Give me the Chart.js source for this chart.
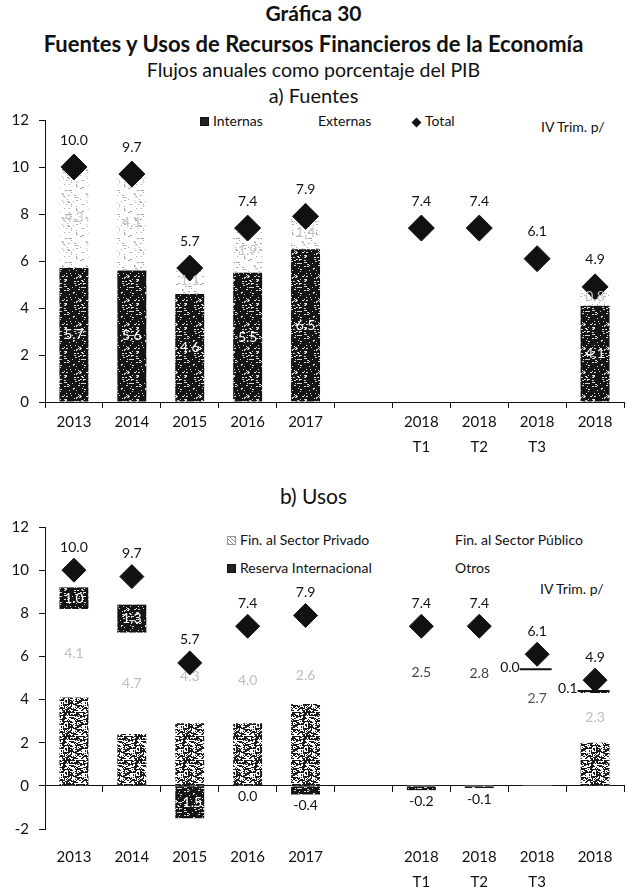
<!DOCTYPE html>
<html>
<head>
<meta charset="utf-8">
<script src="https://cdn.jsdelivr.net/npm/chart.js@4.4.0/dist/chart.umd.min.js"></script>
<style>
  body { margin: 0; background: #fff; font-family: Lato, 'Open Sans', sans-serif; color: #111; }
  #page { position: relative; width: 627px; height: 887px; overflow: hidden; background: #fff; }
  .t { position: absolute; left: 0; width: 627px; text-align: center; white-space: nowrap; line-height: 1; }
  .lg { position: absolute; font-size: 14px; white-space: nowrap; line-height: 1; }
  .ic { display: inline-block; width: 8px; height: 8px; margin-right: 4px; }
  .dk { background: #222; border: 1px solid #111; width: 7px; height: 7px; }
  .lt { background: repeating-linear-gradient(45deg, #888 0 1px, #fff 1px 3px); border: 1px solid #999; width: 7px; height: 7px; }
  .dm { display: inline-block; width: 7px; height: 7px; background: #111; transform: rotate(45deg); margin-right: 5px; }
  canvas { position: absolute; left: 0; }
</style>
</head>
<body>
<div id="page">
  <div class="t" style="top:2px;font-size:21px;font-weight:bold">Gráfica 30</div>
  <div class="t" style="top:33px;font-size:22px;font-weight:bold">Fuentes y Usos de Recursos Financieros de la Economía</div>
  <div class="t" style="top:60px;font-size:19.5px">Flujos anuales como porcentaje del PIB</div>
  <div class="t" style="top:85px;font-size:20px">a) Fuentes</div>
  <div class="t" style="top:485px;font-size:21px">b) Usos</div>

  <div class="lg" style="left:200px;top:114px"><span class="ic dk"></span>Internas</div>
  <div class="lg" style="left:318px;top:114px">Externas</div>
  <div class="lg" style="left:413px;top:114px"><span class="dm"></span>Total</div>
  <div class="lg" style="left:541px;top:120px">IV Trim. p/</div>

  <div class="lg" style="left:227px;top:533px"><span class="ic lt"></span>Fin. al Sector Privado</div>
  <div class="lg" style="left:455px;top:533px">Fin. al Sector Público</div>
  <div class="lg" style="left:227px;top:561px"><span class="ic dk"></span>Reserva Internacional</div>
  <div class="lg" style="left:455px;top:561px">Otros</div>
  <div class="lg" style="left:540px;top:582px">IV Trim. p/</div>

  <canvas id="chartA" width="627" height="360" style="top:100px"></canvas>
  <canvas id="chartB" width="627" height="382" style="top:505px"></canvas>
</div>
<script>
// categories (slot 6 is an empty gap between the annual and quarterly data)
const cats = ['2013', '2014', '2015', '2016', '2017', '', ['2018', 'T1'], ['2018', 'T2'], ['2018', 'T3'], '2018'];

// a) Fuentes
const internas = [5.7, 5.6, 4.6, 5.5, 6.5, null, null, null, null, 4.1];
const externas = [4.3, 4.1, 1.1, 1.9, 1.4, null, null, null, null, 0.8];
const totalA   = [10.0, 9.7, 5.7, 7.4, 7.9, null, 7.4, 7.4, 6.1, 4.9];

// b) Usos
const privado  = [4.1, 2.4, 2.9, 2.9, 3.8, null, 4.0, 3.8, 2.7, 2.0];
const publico  = [4.1, 4.7, 4.3, 4.0, 2.6, null, 2.5, 2.8, 2.7, 2.3];
const reserva  = [1.0, 1.3, -1.5, 0.0, -0.4, null, -0.2, -0.1, 0.0, 0.1];
const otros    = [0.8, 1.3, 0.0, 0.5, 1.9, null, 1.1, 0.9, 0.7, 0.5];
const totalB   = [10.0, 9.7, 5.7, 7.4, 7.9, null, 7.4, 7.4, 6.1, 4.9];

const FONT = 'Lato, "Open Sans", sans-serif';

// speckled textures imitating the scanned fills
function hash(x, y, s) {
  let h = (x * 374761393 + y * 668265263 + s * 982451653) | 0;
  h = Math.imul(h ^ (h >>> 13), 1274126177);
  return ((h ^ (h >>> 16)) >>> 0) / 4294967296;
}
function speckle(bg, fg, density, seed) {
  const c = document.createElement('canvas');
  c.width = 24; c.height = 24;
  const g = c.getContext('2d');
  g.fillStyle = bg; g.fillRect(0, 0, 24, 24);
  g.fillStyle = fg;
  for (let y = 0; y < 24; y++) for (let x = 0; x < 24; x++) {
    if (hash(x, y, seed) < density) g.fillRect(x, y, hash(y, x, seed + 7) < 0.5 ? 2 : 1, 1);
  }
  return g.createPattern(c, 'repeat');
}
const dark = speckle('#141414', '#d8d8d8', 0.1, 3);
const mid = speckle('#ffffff', '#1c1c1c', 0.42, 11);
const light = speckle('#ffffff', '#a8a8a8', 0.07, 5);

const valueLabels = {
  id: 'valueLabels',
  afterDatasetsDraw(chart) {
    const ctx = chart.ctx;
    const zero = chart.scales.y.getPixelForValue(0);
    chart.data.datasets.forEach((ds, di) => {
      const L = ds.valueLabels;
      if (!L) return;
      chart.getDatasetMeta(di).data.forEach((el, i) => {
        const v = ds.data[i];
        if (v === null || v === undefined) return;
        const mode = Array.isArray(L.mode) ? L.mode[i] : L.mode;
        if (!mode) return;
        ctx.save();
        ctx.font = '14px ' + FONT;
        ctx.textAlign = 'center';
        ctx.textBaseline = 'middle';
        let x = el.x, y;
        if (mode === 'center') y = (el.y + el.base) / 2;
        else if (mode === 'above') y = el.y - L.offset;
        else if (mode === 'below') y = Math.max(el.y, el.base, zero) + 11;
        else if (mode === 'left') {
          ctx.strokeStyle = '#111';
          ctx.lineWidth = 2;
          ctx.beginPath();
          ctx.moveTo(el.x - el.width / 2 - 3, el.y);
          ctx.lineTo(el.x + el.width / 2, el.y);
          ctx.stroke();
          ctx.textAlign = 'right';
          x = el.x - el.width / 2 - 3;
          y = el.y - 2;
        }
        ctx.fillStyle = Array.isArray(L.color) ? L.color[i] : L.color;
        ctx.fillText(v.toFixed(1), x, y);
        ctx.restore();
      });
    });
  }
};

// keep the category axis spanning the full plot width (no label padding)
function noPad(s) { s.paddingLeft = 0; s.paddingRight = 0; }

function yAxis(min) {
  return {
    min: min, max: 12, stacked: true,
    ticks: { stepSize: 2, color: '#111', padding: 10, font: { size: 15, family: FONT } },
    grid: { drawOnChartArea: false, tickLength: 6, color: '#111' },
    border: { color: '#111' },
    afterFit(s) { s.width = 45; }
  };
}
function diamonds(data, radius, offset) {
  return {
    type: 'line', label: 'Total', data: data, stack: 'total', order: 0,
    showLine: false, pointStyle: 'rectRot', pointRadius: radius, pointHoverRadius: radius,
    backgroundColor: '#111', borderColor: '#111', pointBorderWidth: 1, clip: false,
    valueLabels: { mode: 'above', offset: offset, color: '#111' }
  };
}
const barCommon = { stack: 'main', order: 1, barPercentage: 0.5, categoryPercentage: 1, borderWidth: 0 };

new Chart(document.getElementById('chartA'), {
  type: 'bar',
  data: {
    labels: cats,
    datasets: [
      Object.assign({ label: 'Internas', data: internas, backgroundColor: dark,
        valueLabels: { mode: 'center', color: '#fff' } }, barCommon),
      Object.assign({ label: 'Externas', data: externas, backgroundColor: light,
        valueLabels: { mode: 'center', color: '#c4c4c4' } }, barCommon),
      diamonds(totalA, 13, 27)
    ]
  },
  options: {
    responsive: false, animation: false, events: [],
    layout: { autoPadding: false, padding: { top: 20, right: 3, left: 0, bottom: 0 } },
    plugins: { legend: { display: false }, tooltip: { enabled: false } },
    scales: {
      x: {
        stacked: true, offset: true,
        grid: { offset: true, drawOnChartArea: false, tickLength: 6, color: '#111' },
        border: { color: '#111' },
        ticks: { color: '#111', padding: 2, maxRotation: 0, autoSkip: false, font: { size: 15, family: FONT, lineHeight: 1.67 } },
        afterFit(s) { s.height = 58; noPad(s); }
      },
      y: yAxis(0)
    }
  },
  plugins: [valueLabels]
});

const privadoColors = privado.map((_, i) => (i >= 6 && i <= 8) ? '#ffffff' : mid);
const publicoColors = ['#bdbdbd', '#bdbdbd', '#bdbdbd', '#bdbdbd', '#bdbdbd', null, '#444', '#444', '#555', '#bdbdbd'];
const reservaModes = ['center', 'center', 'center', 'below', 'below', null, 'below', 'below', 'left', 'left'];
const reservaColors = ['#fff', '#fff', '#fff', '#111', '#111', null, '#111', '#111', '#111', '#111'];

new Chart(document.getElementById('chartB'), {
  type: 'bar',
  data: {
    labels: cats,
    datasets: [
      Object.assign({ label: 'Fin. al Sector Privado', data: privado, backgroundColor: privadoColors }, barCommon),
      Object.assign({ label: 'Fin. al Sector Público', data: publico, backgroundColor: '#ffffff',
        valueLabels: { mode: 'center', color: publicoColors } }, barCommon),
      Object.assign({ label: 'Reserva Internacional', data: reserva, backgroundColor: dark,
        valueLabels: { mode: reservaModes, color: reservaColors } }, barCommon),
      Object.assign({ label: 'Otros', data: otros, backgroundColor: '#ffffff' }, barCommon),
      diamonds(totalB, 12, 23)
    ]
  },
  options: {
    responsive: false, animation: false, events: [],
    layout: { autoPadding: false, padding: { top: 22, right: 3, left: 0, bottom: 0 } },
    plugins: { legend: { display: false }, tooltip: { enabled: false } },
    scales: {
      x: {
        stacked: true, offset: true,
        grid: { display: false, drawTicks: false },
        border: { display: false },
        ticks: { color: '#111', padding: 16, maxRotation: 0, autoSkip: false, font: { size: 15, family: FONT, lineHeight: 1.67 } },
        afterFit(s) { s.height = 58; noPad(s); }
      },
      x2: {
        type: 'category', axis: 'x', labels: cats, position: { y: 0 }, offset: true,
        grid: { offset: true, drawOnChartArea: false, tickLength: 6, color: '#111' },
        border: { color: '#111' },
        ticks: { display: false },
        afterFit: noPad
      },
      y: yAxis(-2)
    }
  },
  plugins: [valueLabels]
});
</script>
</body>
</html>
